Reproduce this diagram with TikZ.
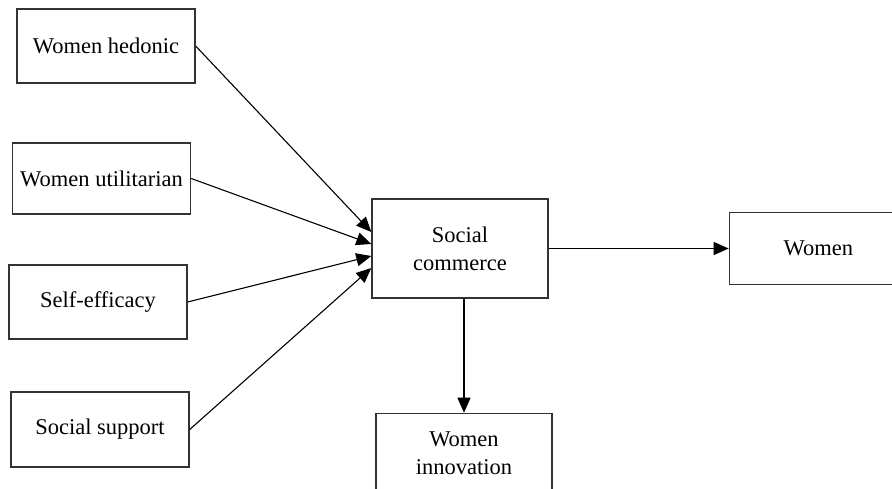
\documentclass[tikz,border=0pt]{standalone}
\usepackage{fontspec}
\setmainfont{Liberation Serif}
\usetikzlibrary{arrows.meta, positioning}

\begin{document}
\begin{tikzpicture}[
  x=1pt, y=-1pt,
  font=\fontsize{22.5}{28}\selectfont,
  >={Triangle[length=15pt, width=13pt]},
  factor/.style={
    rectangle, draw=black!80, line width=1.4pt,
    minimum width=178pt, align=center, inner sep=0pt
  },
  flow/.style={line width=1.1pt, ->, color=black}
]

\useasboundingbox (0,0) rectangle (892,488);
\clip (0,0) rectangle (892,488);

% Input nodes
\node[factor, minimum height=74pt] (hedonic) at (106,46) {Women hedonic};
\node[factor, minimum height=71pt] (util) at (101.5,178.5) {Women utilitarian};
\node[factor, minimum height=74pt] (efficacy) at (98,302) {Self-efficacy};
\node[factor, minimum height=75pt] (support) at (100,429.5) {Social support};

% Central and outcome nodes
\node[factor, minimum width=176pt, minimum height=99pt] (commerce) at (460,248.5) {Social\\commerce};
\node[factor, minimum height=72pt, right=180pt of commerce] (women) {Women};
\node[factor, minimum width=176pt, minimum height=80pt, below=114pt of commerce.south, anchor=north, xshift=4pt] (innov) {Women\\innovation};

% Flow arrows
\draw[flow] (hedonic.east) -- ([yshift=16.5pt]commerce.west);
\draw[flow] (util.east) -- ([yshift=4.5pt]commerce.west);
\draw[flow] (efficacy.east) -- ([yshift=-7.5pt]commerce.west);
\draw[flow] (support.east) -- ([yshift=-19.5pt]commerce.west);
\draw[flow] (commerce) -- (women);
\draw[flow] (commerce.south -| innov.north) -- (innov.north);

\end{tikzpicture}
\end{document}
